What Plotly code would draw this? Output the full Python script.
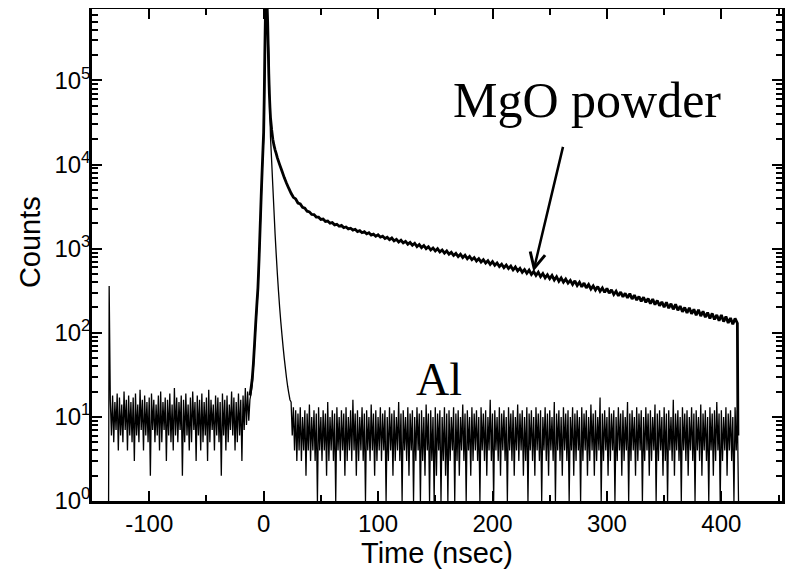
import plotly.graph_objects as go

# ---------------- data ----------------
# Al reference trace, counts per 1-ns bin
al_start_t = [-135.5, -135]
al_start_counts = [1, 360]

al_pre_t0 = -134          # first pre-peak bin (1 ns bins up to -13)
al_pre_counts = [
    16, 6, 18, 5, 15, 7, 19, 4, 17, 6, 14, 5, 20, 7, 16, 4, 18, 6, 15, 5,
    17, 3, 19, 6, 14, 5, 21, 7, 16, 4, 18, 6, 15, 5, 17, 2, 19, 7, 16, 5,
    14, 6, 18, 4, 20, 5, 15, 7, 17, 3, 16, 6, 19, 5, 14, 4, 22, 6, 17, 5,
    15, 7, 18, 2, 16, 5, 19, 6, 14, 4, 17, 5, 20, 7, 15, 3, 18, 6, 16, 4,
    19, 5, 15, 6, 17, 3, 21, 5, 16, 7, 14, 4, 18, 6, 17, 5, 15, 2, 19, 6,
    16, 4, 18, 5, 14, 7, 20, 6, 17, 4, 15, 5, 19, 6, 16, 3, 18, 7, 22, 8,
    20, 9]

al_peak_t = [-12, -11, -10, -9, -8, -7, -6, -5, -4, -3, -2, -1, 0, 0.5, 1, 1.5,
             2, 2.5, 3, 3.5, 4, 4.5, 5, 5.5, 6, 7, 8, 9, 10, 11, 12, 13, 14, 15,
             16, 17, 18, 19, 20, 21, 22, 23]
al_peak_counts = [16, 19, 24, 38, 65, 115, 190, 310, 680, 1700, 4300, 10000,
                  20000, 45000, 150000, 450000, 900000, 1100000, 700000, 450000,
                  300000, 200000, 90000, 40000, 21000, 11000, 5600, 2900, 1500,
                  850, 500, 310, 200, 135, 95, 68, 50, 38, 29, 23, 19, 16]

al_post_t0 = 24           # 1 ns bins from 24 to 414
al_post_counts = [
    15, 6, 13, 4, 12, 3, 11, 4, 13, 3, 10, 4, 12, 2, 11, 4, 14, 3, 10, 4,
    12, 3, 11, 1, 13, 4, 10, 3, 12, 4, 11, 2, 15, 3, 10, 4, 12, 3, 11, 1,
    13, 4, 10, 3, 12, 4, 11, 2, 13, 3, 10, 4, 12, 3, 16, 4, 11, 2, 12, 3,
    10, 4, 13, 3, 11, 1, 12, 4, 10, 3, 14, 4, 11, 2, 12, 3, 10, 4, 13, 3,
    11, 4, 12, 1, 10, 3, 13, 4, 11, 2, 12, 3, 10, 4, 15, 3, 11, 1, 12, 4,
    10, 3, 13, 2, 11, 4, 12, 1, 10, 3, 13, 4, 11, 1, 12, 3, 10, 2, 14, 4,
    11, 1, 12, 3, 10, 1, 13, 2, 11, 4, 12, 1, 10, 3, 13, 2, 11, 1, 12, 3,
    10, 4, 13, 1, 11, 3, 12, 2, 10, 4, 14, 3, 11, 1, 12, 4, 10, 2, 13, 3,
    11, 4, 12, 3, 10, 1, 13, 4, 11, 3, 12, 2, 10, 4, 16, 3, 11, 1, 12, 4,
    10, 3, 13, 2, 11, 4, 12, 3, 10, 1, 13, 4, 11, 3, 12, 2, 10, 4, 14, 3,
    11, 4, 12, 2, 10, 3, 13, 1, 11, 4, 12, 3, 10, 2, 13, 4, 11, 3, 12, 1,
    10, 4, 13, 3, 11, 2, 12, 4, 10, 3, 15, 1, 11, 4, 12, 3, 10, 2, 13, 4,
    11, 3, 12, 1, 10, 4, 13, 2, 11, 3, 12, 4, 10, 1, 13, 3, 11, 4, 12, 2,
    10, 3, 14, 4, 11, 2, 12, 3, 10, 4, 17, 1, 11, 3, 12, 4, 10, 2, 13, 3,
    11, 4, 12, 1, 10, 3, 13, 4, 11, 2, 12, 3, 10, 4, 15, 1, 11, 3, 12, 4,
    10, 2, 13, 3, 11, 4, 12, 1, 10, 3, 13, 4, 11, 2, 12, 3, 10, 4, 14, 1,
    11, 3, 12, 4, 10, 2, 13, 3, 11, 1, 12, 4, 10, 3, 16, 2, 11, 4, 12, 3,
    10, 1, 13, 4, 11, 3, 12, 2, 10, 4, 13, 3, 11, 1, 12, 4, 10, 3, 14, 2,
    11, 4, 12, 3, 10, 1, 13, 4, 11, 2, 12, 3, 15, 4, 11, 1, 12, 3, 10, 4,
    13, 2, 11, 4, 12, 3, 10, 1, 13, 4, 12]
al_end_t = [415]
al_end_counts = [1]

# MgO powder trace
mgo_peak_t = [-12, -11, -10, -9, -8, -7, -6, -5, -4, -3, -2, -1, 0, 0.5, 1, 1.5,
              2, 2.5, 3, 3.5, 4, 4.5, 5, 5.5, 6, 7, 8, 9, 10, 11, 12, 14, 16,
              18, 20, 22]
mgo_peak_counts = [18, 22, 28, 42, 72, 125, 210, 340, 750, 1900, 4800, 11000,
                   24000, 60000, 200000, 550000, 1000000, 1200000, 800000,
                   500000, 250000, 120000, 70000, 48000, 36000, 26000, 20000,
                   17000, 15000, 13500, 12000, 10000, 8400, 7000, 6000, 5200]

mgo_tail_t0 = 24          # 2 ns bins from 24 to 414
mgo_tail_step = 2
mgo_tail_counts = [
    4560, 4090, 3900, 3490, 3400, 3110, 3030, 2790, 2740, 2560,
    2540, 2380, 2370, 2230, 2250, 2110, 2130, 2010, 2040, 1920,
    1950, 1850, 1890, 1780, 1810, 1720, 1750, 1660, 1700, 1600,
    1640, 1550, 1590, 1500,
    1550, 1450, 1490, 1405,
    1460, 1370, 1410, 1320, 1370,
    1280, 1340, 1240, 1290, 1200,
    1260, 1170, 1220, 1130, 1185,
    1100, 1160, 1060, 1120, 1030,
    1090, 1000, 1055, 965, 1020,
    940, 1000, 915, 965, 885,
    940, 860, 905, 830, 880,
    805, 860, 785, 835, 760,
    810, 740, 785, 715, 760,
    695, 740, 675, 720, 650,
    700, 635, 675, 615, 655,
    595, 640, 580, 620, 560,
    605, 545, 585, 525, 565,
    510, 555, 495, 535, 480,
    525, 465, 505, 450, 490,
    440, 480, 425, 465, 410,
    450, 400, 435, 390, 420,
    375, 415, 365, 400, 352,
    390, 342, 375, 332, 362,
    322, 355, 312, 342, 302,
    338, 295, 325, 285, 312,
    275, 305, 268, 295, 260,
    292, 252, 280, 245, 270,
    236, 265, 230, 255, 222,
    252, 216, 242, 210, 233,
    202, 230, 196, 222, 190,
    218, 185, 208, 178, 200,
    172, 198, 168, 190, 162,
    188, 158, 180, 153, 174,
    148, 170, 144, 163, 139,
    163, 136, 156, 131, 150,
    126, 148, 130]
mgo_end_t = [414.5]
mgo_end_counts = [6]

# tick labels
x_tickvals = [-100, 0, 100, 200, 300, 400]
x_ticktext = ["-100", "0", "100", "200", "300", "400"]
y_tickvals = [1, 10, 100, 1000, 10000, 100000]
y_ticktext = ["10<sup>0</sup>", "10<sup>1</sup>", "10<sup>2</sup>",
              "10<sup>3</sup>", "10<sup>4</sup>", "10<sup>5</sup>"]

# ---------------- assemble traces ----------------
al_pre_t = [al_pre_t0 + i for i in range(len(al_pre_counts))]
al_post_t = [al_post_t0 + i for i in range(len(al_post_counts))]
al_t = al_start_t + al_pre_t + al_peak_t + al_post_t + al_end_t
al_y = al_start_counts + al_pre_counts + al_peak_counts + al_post_counts + al_end_counts

mgo_tail_t = [mgo_tail_t0 + mgo_tail_step * i for i in range(len(mgo_tail_counts))]
mgo_t = mgo_peak_t + mgo_tail_t + mgo_end_t
mgo_y = mgo_peak_counts + mgo_tail_counts + mgo_end_counts

fig = go.Figure()
fig.add_trace(go.Scatter(x=al_t, y=al_y, mode="lines", name="Al",
                         line=dict(color="black", width=1.3, simplify=False)))
fig.add_trace(go.Scatter(x=mgo_t, y=mgo_y, mode="lines", name="MgO powder",
                         line=dict(color="black", width=2.8, simplify=False)))

axis_font = dict(family="Liberation Sans, Arial, sans-serif", size=24, color="black")
title_font = dict(family="Liberation Sans, Arial, sans-serif", size=29, color="black")
serif = "Liberation Serif, Times New Roman, serif"

# the page body has an 8px margin, so the figure is sized to fit inside it
fig.update_layout(
    width=779, height=561,
    margin=dict(l=84, r=5, t=1, b=68),
    paper_bgcolor="white", plot_bgcolor="white",
    showlegend=False,
    xaxis=dict(
        range=[-150, 453], showgrid=False, zeroline=False, automargin=False,
        showline=True, linecolor="black", linewidth=2.5, mirror="allticks",
        ticks="inside", ticklen=10, tickwidth=2, tickcolor="black",
        tickmode="array", tickvals=x_tickvals, ticktext=x_ticktext,
        tickfont=axis_font, ticklabelstandoff=-1,
        minor=dict(dtick=50, tick0=0, ticks="inside", ticklen=6, tickwidth=1.5,
                   tickcolor="black", showgrid=False),
        title=dict(text="Time (nsec)", font=title_font, standoff=15),
    ),
    yaxis=dict(
        type="log", range=[0, 5.85], showgrid=False, zeroline=False, automargin=False,
        showline=True, linecolor="black", linewidth=2.5, mirror="allticks",
        ticks="inside", ticklen=10, tickwidth=2, tickcolor="black",
        tickmode="array", tickvals=y_tickvals, ticktext=y_ticktext,
        tickfont=axis_font, ticklabelstandoff=-6,
        minor=dict(dtick="D1", ticks="inside", ticklen=6, tickwidth=1.5,
                   tickcolor="black", showgrid=False),
    ),
    annotations=[
        dict(text="Counts", xref="paper", yref="paper", x=-0.09, y=0.526,
             xanchor="center", yanchor="middle", showarrow=False, textangle=-90,
             font=title_font),
        dict(text="MgO powder", xref="paper", yref="paper", x=0.717, y=0.815,
             xanchor="center", yanchor="middle", showarrow=False,
             font=dict(family=serif, size=50, color="black")),
        dict(text="Al", xref="paper", yref="paper", x=0.503, y=0.247,
             xanchor="center", yanchor="middle", showarrow=False,
             font=dict(family=serif, size=46, color="black")),
        dict(text="", xref="x", yref="y", x=235.7, y=2.73,
             ax=30, ay=-126, showarrow=True, arrowhead=5, arrowsize=1.2,
             arrowwidth=2.5, arrowcolor="black"),
    ],
)

fig.write_html("out.html")
